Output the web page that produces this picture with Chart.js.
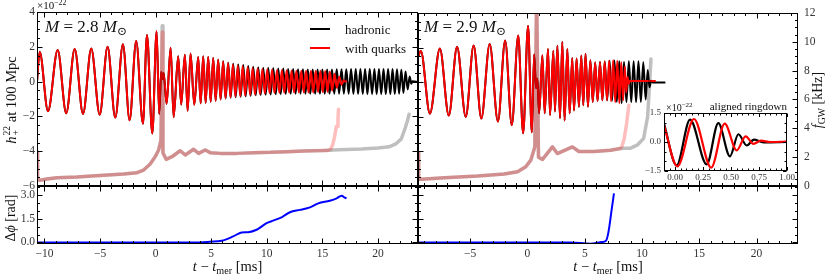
<!DOCTYPE html>
<html>
<head>
<meta charset="utf-8">
<script src="https://cdn.jsdelivr.net/npm/chart.js@4.4.1/dist/chart.umd.min.js"></script>
<style>
  html, body { margin:0; padding:0; background:#fff; }
  #fig { position:relative; width:830px; height:278px; overflow:hidden; font-family:"Liberation Serif","DejaVu Serif",serif; color:#111; }
  #fig canvas { position:absolute; left:0; top:0; }
  .t { position:absolute; white-space:nowrap; line-height:1; }
  .c { transform:translate(-50%,-50%); }
  .rot { transform:translate(-50%,-50%) rotate(-90deg); }
  .ss { display:inline-block; vertical-align:-0.32em; font-size:0.66em; line-height:0.95; margin-left:1px; text-align:left; }
  .ss > span { display:block; }
  sub { font-size:0.7em; vertical-align:-0.28em; line-height:0; }
  sup { font-size:0.7em; vertical-align:0.55em; line-height:0; }
  .ln { position:absolute; height:2px; width:20px; }
</style>
</head>
<body>
<div id="fig">
  <canvas id="cTL" width="830" height="278"></canvas>
  <canvas id="cTR" width="830" height="278"></canvas>
  <canvas id="cBL" width="830" height="278"></canvas>
  <canvas id="cBR" width="830" height="278"></canvas>
  <canvas id="cIN" width="830" height="278"></canvas>

  <div class="t" style="left:37px;top:0px;font-size:11px;">×10<sup>−22</sup></div>
  <div class="t" style="left:45px;top:18px;font-size:17px;"><i>M</i> = 2.8 <i>M</i><sub>⊙</sub></div>
  <div class="t" style="left:424px;top:18px;font-size:17px;"><i>M</i> = 2.9 <i>M</i><sub>⊙</sub></div>

  <div class="ln" style="left:310px;top:28px;background:#000;"></div>
  <div class="t" style="left:345px;top:22.5px;font-size:13px;">hadronic</div>
  <div class="ln" style="left:310px;top:47px;background:#f00;"></div>
  <div class="t" style="left:345px;top:41.5px;font-size:13px;">with quarks</div>

  <div class="t rot" style="left:11px;top:100px;font-size:14.5px;"><i>h</i><span class="ss"><span>22</span><span>+</span></span> at 100 Mpc</div>
  <div class="t rot" style="left:11px;top:218px;font-size:14px;">Δ<i>ϕ</i> [rad]</div>
  <div class="t rot" style="left:818px;top:100px;font-size:14px;"><i>f</i><sub>GW</sub> [kHz]</div>
  <div class="t c" style="left:227.5px;top:266px;font-size:14.5px;"><i>t</i> − <i>t</i><sub>mer</sub> [ms]</div>
  <div class="t c" style="left:608px;top:266px;font-size:14.5px;"><i>t</i> − <i>t</i><sub>mer</sub> [ms]</div>

  <div class="t" style="left:666px;top:102.5px;font-size:10px;">×10<sup>−22</sup></div>
  <div class="t" style="right:43px;top:101px;font-size:11px;">aligned ringdown</div>
</div>
<script>
// ---------------- DATA ----------------
// Tick labels
const hTicks = [-6, -4, -2, 0, 2, 4];
const fTicks = [0, 2, 4, 6, 8, 10, 12];
const xTicks28 = [-10, -5, 0, 5, 10, 15, 20];
const xTicks29 = [-5, 0, 5, 10, 15, 20];
const dphiTicks = [0, 1.5, 3.0];
const insXTicks = [0, 0.25, 0.5, 0.75, 1.0];
const insYTicks = [-1.5, 0, 1.5];

// M = 2.8: strain extrema (units of 1e-22), shared inspiral + early post-merger
const tShared28 = [-10.67, -10.43, -9.68, -8.81, -8.04, -7.28, -6.53, -5.79, -5.03, -4.32, -3.63, -2.94, -2.34, -1.75, -1.14, -0.78, -0.30, 0.09, 0.32, 0.50, 0.62, 0.72, 0.99, 1.35, 1.62, 2.03, 2.30, 2.63, 2.88, 3.14, 3.48, 3.83, 4.05, 4.28, 4.50, 4.73, 4.95, 5.18];
const hShared28 = [0.00, 1.72, -1.70, 1.82, -1.82, 1.88, -1.86, 1.90, -1.90, 2.00, -2.07, 2.15, -2.22, 2.33, -2.42, 2.68, -2.98, 2.90, -1.86, 0.55, 0.15, 0.50, -1.28, 1.95, -2.05, 1.45, -1.32, 1.55, -1.68, 1.62, -1.33, 1.42, -1.25, 1.45, -1.22, 1.42, -1.16, 1.36];
// hadronic post-merger
const tHad28 = [5.40, 5.63, 5.85, 6.08, 6.30, 6.53, 6.75, 6.98, 7.20, 7.43, 7.65, 7.88, 8.10, 8.33, 8.55, 8.78, 9.00, 9.23, 9.45, 9.68, 9.90, 10.13, 10.35, 10.58, 10.80, 11.03, 11.25, 11.48, 11.70, 11.92, 12.15, 12.37, 12.59, 12.81, 13.03, 13.25, 13.47, 13.69, 13.91, 14.13, 14.35, 14.57, 14.78, 15.00, 15.21, 15.43, 15.64, 15.86, 16.07, 16.29, 16.50, 16.72, 16.93, 17.15, 17.36, 17.58, 17.79, 18.00, 18.21, 18.42, 18.63, 18.84, 19.05, 19.26, 19.47, 19.68, 19.88, 20.09, 20.29, 20.50, 20.70, 20.91, 21.11, 21.31, 21.51, 21.71, 21.90, 22.10, 22.29, 22.48, 22.67, 22.85, 23.00, 23.10, 23.60];
const hHad28 = [-1.10, 1.26, -1.03, 1.17, -0.97, 1.08, -0.93, 1.03, -0.90, 0.98, -0.87, 0.95, -0.85, 0.90, -0.82, 0.86, -0.79, 0.82, -0.77, 0.80, -0.75, 0.79, -0.74, 0.78, -0.73, 0.76, -0.72, 0.75, -0.71, 0.73, -0.70, 0.72, -0.70, 0.71, -0.70, 0.71, -0.70, 0.70, -0.70, 0.70, -0.70, 0.70, -0.70, 0.70, -0.70, 0.70, -0.70, 0.70, -0.70, 0.71, -0.70, 0.71, -0.70, 0.71, -0.70, 0.72, -0.71, 0.72, -0.71, 0.72, -0.71, 0.73, -0.72, 0.73, -0.72, 0.73, -0.72, 0.73, -0.72, 0.73, -0.72, 0.72, -0.72, 0.72, -0.71, 0.71, -0.70, 0.68, -0.66, 0.58, -0.45, 0.30, -0.12, 0.02, -0.02];
// with quarks post-merger
const tQrk28 = [5.40, 5.62, 5.84, 6.07, 6.28, 6.51, 6.73, 6.95, 7.17, 7.39, 7.61, 7.83, 8.05, 8.28, 8.50, 8.72, 8.94, 9.17, 9.38, 9.60, 9.82, 10.04, 10.25, 10.48, 10.69, 10.92, 11.13, 11.36, 11.57, 11.79, 12.01, 12.23, 12.45, 12.66, 12.88, 13.10, 13.32, 13.53, 13.75, 13.97, 14.18, 14.40, 14.61, 14.82, 15.03, 15.25, 15.46, 15.67, 15.88, 16.09, 16.30, 16.52, 16.72, 16.92, 17.02, 17.20];
const hQrk28 = [-1.10, 1.25, -1.02, 1.15, -0.95, 1.05, -0.90, 0.98, -0.86, 0.93, -0.83, 0.89, -0.80, 0.84, -0.77, 0.80, -0.74, 0.76, -0.71, 0.73, -0.69, 0.71, -0.67, 0.69, -0.66, 0.67, -0.65, 0.66, -0.64, 0.65, -0.63, 0.64, -0.63, 0.63, -0.62, 0.63, -0.62, 0.62, -0.62, 0.62, -0.62, 0.62, -0.61, 0.62, -0.61, 0.61, -0.60, 0.58, -0.52, 0.45, -0.36, 0.28, -0.18, 0.08, 0.00, 0.02];

// M = 2.8: GW frequency (kHz)
const fPreT28 = [-10.67, -10.62, -10.40, -9.78, -8.88, -7.08, -4.68, -2.88, -1.68, -1.08, -0.49, -0.04, 0.27, 0.48];
const fPreV28 = [2.35, 0.45, 0.40, 0.48, 0.57, 0.62, 0.74, 0.83, 0.92, 1.10, 1.52, 2.02, 2.48, 3.17];
const fSpikeT28 = [0.59];
const fSpikeHad28 = [11.05];
const fSpikeQrk28 = [10.6];
const fPostT28 = [0.66, 0.95, 1.47, 2.21, 2.66, 3.42, 3.87, 4.46, 4.91, 5.81, 7.31, 8.81, 10.31, 11.81, 13.31, 15.11];
const fPostV28 = [2.28, 1.84, 2.02, 2.43, 2.14, 2.53, 2.25, 2.48, 2.30, 2.25, 2.25, 2.30, 2.32, 2.37, 2.41, 2.44];
const fHadTailT28 = [16.5, 18.5, 20.0, 21.0, 21.6, 22.1, 22.45, 22.65, 22.8];
const fHadTailV28 = [2.50, 2.55, 2.62, 2.70, 2.90, 3.25, 4.0, 4.5, 4.95];
const fQrkTailT28 = [15.5, 15.75, 15.95, 16.1, 16.25, 16.35, 16.4, 16.45];
const fQrkTailV28 = [2.45, 2.55, 2.9, 3.4, 4.1, 4.1, 4.6, 5.3];

// M = 2.9: strain extrema
const tShared29 = [-9.56, -9.31, -8.52, -7.65, -6.87, -6.15, -5.39, -4.70, -4.03, -3.30, -2.58, -1.95, -1.37, -0.81, -0.38, 0.05, 0.38, 0.58, 0.75, 0.86, 1.02, 1.30, 1.50, 1.79, 1.97, 2.26, 2.40, 2.61, 2.84, 3.04, 3.24, 3.48, 3.68, 3.91, 4.06, 4.29, 4.49, 4.70, 4.87, 5.07];
const hShared29 = [1.45, 1.80, -1.82, 1.94, -1.93, 2.05, -2.01, 2.12, -2.10, 2.21, -2.28, 2.40, -2.49, 2.70, -2.95, 3.25, -2.90, 1.60, -0.35, 0.20, -1.80, 1.55, -1.80, 1.92, -1.90, 1.82, -1.70, 2.10, -2.08, 2.33, -2.22, 1.92, -1.80, 1.40, -1.64, 1.36, -1.42, 1.54, -1.33, 1.64];
const tHad29 = [5.28, 5.49, 5.70, 5.91, 6.12, 6.33, 6.54, 6.75, 6.96, 7.17, 7.38, 7.59, 7.80, 8.01, 8.22, 8.43, 8.64, 8.85, 9.06, 9.27, 9.48, 9.69, 9.90, 10.11, 10.32, 10.50, 10.65, 10.80, 10.95, 12.04];
const hHad29 = [-1.42, 1.26, -1.14, 1.13, -1.09, 1.16, -1.05, 1.19, -1.05, 1.24, -1.08, 1.25, -1.13, 1.21, -1.22, 1.17, -1.16, 1.20, -1.16, 1.20, -1.16, 1.20, -1.14, 1.15, -1.00, 0.70, -0.30, 0.08, -0.02, -0.02];
const tQrk29 = [5.28, 5.49, 5.70, 5.91, 6.12, 6.33, 6.54, 6.74, 6.94, 7.12, 7.30, 7.48, 7.66, 7.84, 8.02, 8.19, 8.35, 8.50, 8.62, 8.73, 8.84, 8.96, 9.10, 11.20];
const hQrk29 = [-1.42, 1.26, -1.14, 1.13, -1.09, 1.16, -1.05, 1.19, -1.05, 1.24, -1.10, 1.26, -1.16, 1.23, -1.22, 1.15, -1.05, 0.90, -0.60, 0.30, -0.10, 0.08, 0.06, 0.06];

// M = 2.9: GW frequency
const fPreT29 = [-9.56, -9.50, -9.27, -7.24, -4.34, -2.03, -0.87, -0.15, 0.29, 0.64];
const fPreV29 = [2.30, 0.46, 0.46, 0.58, 0.69, 0.83, 0.99, 1.33, 1.79, 2.71];
const fSpikeT29 = [0.80];
const fSpikeV29 = [13.5];
const fPostT29 = [0.96, 1.31, 2.18, 2.61, 3.92, 4.49, 5.79, 7.24, 8.11];
const fPostV29 = [2.00, 1.84, 2.71, 2.25, 2.71, 2.39, 2.39, 2.48, 2.60];
const fHadTailT29 = [8.6, 9.0, 9.57, 10.14, 10.49, 10.66, 10.78];
const fHadTailV29 = [2.62, 2.62, 2.83, 3.29, 4.80, 7.1, 8.8];
const fQrkTailT29 = [8.25, 8.45, 8.65, 8.85];
const fQrkTailV29 = [2.75, 3.3, 4.3, 5.6];

// Phase difference (rad)
const tDphi28 = [-10.67, 3.98, 4.88, 5.93, 6.98, 7.73, 8.33, 9.08, 9.98, 10.58, 11.33, 12.08, 12.98, 13.88, 14.63, 15.67, 16.28, 16.73, 16.96, 17.17];
const vDphi28 = [0.00, 0.00, 0.04, 0.10, 0.38, 0.63, 0.65, 0.80, 1.22, 1.38, 1.59, 1.91, 2.06, 2.22, 2.47, 2.64, 2.79, 2.96, 2.85, 2.79];
const tDphi29 = [-9.56, 3.77, 5.50, 6.50, 6.85, 7.06, 7.35, 7.55];
const vDphi29 = [0.00, 0.00, -0.08, 0.02, 0.10, 0.62, 2.07, 3.10];

// Inset: aligned ringdown (ms, 1e-22)
const tInsHad = [-0.10, 0.013, 0.133, 0.282, 0.386, 0.49, 0.565, 0.64, 0.705, 0.79, 1.0];
const hInsHad = [0.95, -1.21, 1.16, -1.16, 0.98, -0.74, 0.40, -0.18, 0.12, -0.02, 0.0];
const tInsQrk = [-0.10, 0.02, 0.168, 0.322, 0.443, 0.55, 0.63, 0.70, 0.767, 0.85, 1.0];
const hInsQrk = [0.85, -1.26, 1.19, -1.33, 0.95, -0.43, 0.29, -0.10, 0.07, 0.00, 0.02];

// ---------------- DRAWING ----------------
const FONT = "'Liberation Serif','DejaVu Serif',serif";
const fmt = d => v => (v < 0 ? '\u2212' : '') + (d == null ? String(Math.abs(v)) : Math.abs(v).toFixed(d));
const pts = (ts, vs) => ts.map((t, i) => ({ x: t, y: vs[i] }));
const cat = (...pairs) => { const ts = [], vs = []; pairs.forEach(([a, b]) => { ts.push(...a); vs.push(...b); }); return pts(ts, vs); };

const inTicks = {
  id: 'inTicks',
  beforeDatasetsDraw(chart, args, o) {
    if (o.bg) {
      const a = chart.chartArea, ctx = chart.ctx;
      ctx.save(); ctx.fillStyle = '#fff'; ctx.fillRect(a.left, a.top, a.right - a.left, a.bottom - a.top); ctx.restore();
    }
  },
  afterDatasetsDraw(chart, args, o) {
    const ctx = chart.ctx, a = chart.chartArea;
    const L = Math.round(a.left) + 0.5, R = Math.round(a.right) - 0.5, T = Math.round(a.top) + 0.5, B = Math.round(a.bottom) - 0.5;
    const big = o.major || 5, small = o.minor || 2.5;
    ctx.save();
    ctx.strokeStyle = '#000'; ctx.lineWidth = 1;
    ctx.beginPath();
    (o.specs || []).forEach(sp => {
      const sc = chart.scales[sp.id];
      const vals = [];
      sp.major.forEach(v => vals.push([v, big]));
      if (sp.step) {
        for (let k = Math.ceil(sc.min / sp.step - 1e-9); k * sp.step <= sc.max + 1e-9; k++) {
          const v = k * sp.step;
          if (!sp.major.some(m => Math.abs(m - v) < 1e-9)) vals.push([v, small]);
        }
      }
      vals.forEach(([v, len]) => {
        if (v < sc.min - 1e-9 || v > sc.max + 1e-9) return;
        const p = Math.round(sc.getPixelForValue(v)) + 0.5;
        sp.sides.forEach(side => {
          if (side === 'bottom') { ctx.moveTo(p, B); ctx.lineTo(p, B - len); }
          else if (side === 'top') { ctx.moveTo(p, T); ctx.lineTo(p, T + len); }
          else if (side === 'left') { ctx.moveTo(L, p); ctx.lineTo(L + len, p); }
          else if (side === 'right') { ctx.moveTo(R, p); ctx.lineTo(R - len, p); }
        });
      });
    });
    ctx.stroke();
    ctx.strokeRect(L, T, R - L, B - T);
    ctx.restore();
  }
};

function axis(position, min, max, o = {}) {
  const horiz = position === 'top' || position === 'bottom';
  const ax = {
    type: 'linear', position, min, max, display: !!o.labels,
    grid: { display: false, drawTicks: false },
    border: { display: false },
    ticks: { display: !!o.labels, padding: o.pad || 3, font: { family: FONT, size: o.size || 11.5 }, color: '#333',
             autoSkip: false, maxRotation: 0, minRotation: 0 }
  };
  if (o.labels) {
    ax.afterFit = s => { if (horiz) s.height = o.space; else s.width = o.space; };
    ax.afterBuildTicks = s => { s.ticks = o.labels.map(v => ({ value: v })); };
    ax.ticks.callback = v => o.f(v);
  }
  return ax;
}

function wave(data, color, order, w) {
  return { data, borderColor: color, borderWidth: w || 2, pointRadius: 0, fill: false, order,
           cubicInterpolationMode: 'monotone', borderJoinStyle: 'round', yAxisID: 'y' };
}
function freq(data, color, order) {
  return { data, borderColor: color, borderWidth: 3.5, pointRadius: 0, fill: false, order,
           tension: 0, borderJoinStyle: 'round', borderCapStyle: 'round', yAxisID: 'f' };
}

function make(id, padding, datasets, scales, specs, extra = {}) {
  return new Chart(document.getElementById(id), {
    type: 'line',
    data: { datasets },
    options: {
      responsive: false, animation: false, devicePixelRatio: 1, events: [],
      layout: { padding },
      plugins: { legend: { display: false }, tooltip: { enabled: false },
                 inTicks: Object.assign({ specs }, extra) },
      scales
    },
    plugins: [inTicks]
  });
}

const X28 = [-10.67, 23.6], X29 = [-9.56, 23.62];
const BLACK_A = 'rgba(0,0,0,0.25)', RED_A = 'rgba(255,0,0,0.26)';

// Top-left: M = 2.8
make('cTL', { left: 0, top: 12, right: 412, bottom: 92 }, [
  wave(cat([tShared28, hShared28], [tHad28, hHad28]), '#000', 4),
  wave(cat([tShared28, hShared28], [tQrk28, hQrk28]), '#f00', 3),
  freq(cat([fPreT28, fPreV28], [fSpikeT28, fSpikeHad28], [fPostT28, fPostV28], [fHadTailT28, fHadTailV28]), BLACK_A, 2),
  freq(cat([fPreT28, fPreV28], [fSpikeT28, fSpikeQrk28], [fPostT28, fPostV28], [fQrkTailT28, fQrkTailV28]), RED_A, 1)
], {
  x: axis('bottom', X28[0], X28[1]),
  y: axis('left', -6, 4, { labels: hTicks, f: fmt(), space: 37, pad: 2 }),
  f: axis('right', 0, 12)
}, [
  { id: 'x', major: xTicks28, step: 1, sides: ['top', 'bottom'] },
  { id: 'y', major: hTicks, step: 0.5, sides: ['left', 'right'] }
]);

// Top-right: M = 2.9
make('cTR', { left: 418, top: 12, right: 0, bottom: 92 }, [
  wave(cat([tShared29, hShared29], [tHad29, hHad29]), '#000', 4),
  wave(cat([tShared29, hShared29], [tQrk29, hQrk29]), '#f00', 3),
  freq(cat([fPreT29, fPreV29], [fSpikeT29, fSpikeV29], [fPostT29, fPostV29], [fHadTailT29, fHadTailV29]), BLACK_A, 2),
  freq(cat([fPreT29, fPreV29], [fSpikeT29, fSpikeV29], [fPostT29, fPostV29], [fQrkTailT29, fQrkTailV29]), RED_A, 1)
], {
  x: axis('bottom', X29[0], X29[1]),
  y: axis('left', -6, 4),
  f: axis('right', 0, 12, { labels: fTicks, f: fmt(), space: 32, pad: 6 })
}, [
  { id: 'x', major: xTicks29, step: 1, sides: ['top', 'bottom'] },
  { id: 'y', major: hTicks, step: 0.5, sides: ['left'] },
  { id: 'f', major: fTicks, step: 0.5, sides: ['right'] }
]);

// Bottom-left: phase difference M = 2.8
make('cBL', { left: 0, top: 186, right: 412, bottom: 0 }, [
  { data: pts(tDphi28, vDphi28), borderColor: '#0000ff', borderWidth: 2, pointRadius: 0, fill: false,
    cubicInterpolationMode: 'monotone', yAxisID: 'y' }
], {
  x: axis('bottom', X28[0], X28[1], { labels: xTicks28, f: fmt(), space: 34, pad: 3 }),
  y: axis('left', -0.1, 3.57, { labels: dphiTicks, f: fmt(1), space: 37, pad: 2 })
}, [
  { id: 'x', major: xTicks28, step: 1, sides: ['top', 'bottom'] },
  { id: 'y', major: dphiTicks, step: 0.5, sides: ['left', 'right'] }
]);

// Bottom-right: phase difference M = 2.9
make('cBR', { left: 418, top: 186, right: 32, bottom: 0 }, [
  { data: pts(tDphi29, vDphi29), borderColor: '#0000ff', borderWidth: 2, pointRadius: 0, fill: false,
    cubicInterpolationMode: 'monotone', yAxisID: 'y' }
], {
  x: axis('bottom', X29[0], X29[1], { labels: xTicks29, f: fmt(), space: 34, pad: 3 }),
  y: axis('left', -0.1, 3.57)
}, [
  { id: 'x', major: xTicks29, step: 1, sides: ['top', 'bottom'] },
  { id: 'y', major: dphiTicks, step: 0.5, sides: ['left', 'right'] }
]);

// Inset: aligned ringdown
make('cIN', { left: 634, top: 113, right: 43, bottom: 87 }, [
  wave(pts(tInsHad, hInsHad), '#000', 2, 2.2),
  wave(pts(tInsQrk, hInsQrk), '#f00', 1, 2.2)
], {
  x: axis('bottom', -0.1, 1.0, { labels: insXTicks, f: fmt(2), space: 20, pad: 1, size: 9 }),
  y: axis('left', -1.5, 1.5, { labels: insYTicks, f: fmt(1), space: 30, pad: 3, size: 9 })
}, [
  { id: 'x', major: insXTicks, step: 0.05, sides: ['top', 'bottom'] },
  { id: 'y', major: insYTicks, step: 0.5, sides: ['left', 'right'] }
], { bg: true, major: 3.5, minor: 2 });
</script>
</body>
</html>
